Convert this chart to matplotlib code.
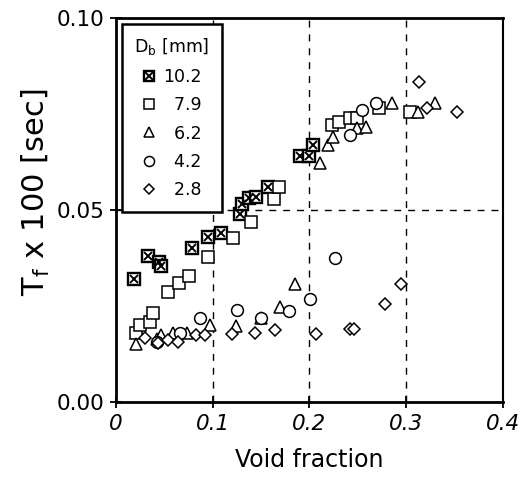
import matplotlib
matplotlib.use("Agg")
import matplotlib.pyplot as plt
from matplotlib.legend_handler import HandlerTuple

plt.rcParams['font.family'] = ['DejaVu Sans']
plt.rcParams['mathtext.fontset'] = 'dejavusans'

# Data (void fraction, Tf x 100 [sec])
x_102 = [0.019, 0.033, 0.045, 0.047, 0.079, 0.095, 0.109, 0.128, 0.130, 0.138, 0.145, 0.157, 0.190, 0.200, 0.204]
y_102 = [0.032, 0.038, 0.0365, 0.0355, 0.040, 0.043, 0.044, 0.049, 0.0515, 0.053, 0.0535, 0.056, 0.064, 0.064, 0.067]

x_79 = [0.021, 0.025, 0.035, 0.0386, 0.054, 0.065, 0.076, 0.095, 0.121, 0.140, 0.163, 0.169, 0.223, 0.231, 0.242, 0.249, 0.272, 0.304]
y_79 = [0.0179, 0.020, 0.0209, 0.0231, 0.0287, 0.031, 0.0328, 0.0378, 0.0428, 0.0468, 0.0529, 0.056, 0.0721, 0.073, 0.0739, 0.0739, 0.0765, 0.0756]

x_62 = [0.021, 0.042, 0.047, 0.059, 0.073, 0.097, 0.124, 0.150, 0.170, 0.185, 0.211, 0.219, 0.224, 0.249, 0.259, 0.285, 0.312, 0.330]
y_62 = [0.0150, 0.0163, 0.0175, 0.0179, 0.0179, 0.0200, 0.0198, 0.0218, 0.0247, 0.0306, 0.0622, 0.067, 0.069, 0.0713, 0.0717, 0.0778, 0.0756, 0.0778]

x_42 = [0.042, 0.066, 0.0868, 0.125, 0.1505, 0.179, 0.2004, 0.227, 0.242, 0.254, 0.269]
y_42 = [0.0157, 0.0179, 0.0218, 0.024, 0.0218, 0.0237, 0.0267, 0.0376, 0.0695, 0.076, 0.0778]

x_28 = [0.030, 0.044, 0.054, 0.064, 0.083, 0.092, 0.1205, 0.144, 0.164, 0.2066, 0.2425, 0.246, 0.2786, 0.2944, 0.3133, 0.322, 0.353]
y_28 = [0.0166, 0.0153, 0.016, 0.0157, 0.0174, 0.0174, 0.0177, 0.0179, 0.0187, 0.0177, 0.0189, 0.0189, 0.0255, 0.0306, 0.0834, 0.0765, 0.0754]

labels = ["10.2", "\u20077.9", "\u20076.2", "\u20074.2", "\u20072.8"]
x_ticks = [0, 0.1, 0.2, 0.3, 0.4]
x_tick_labels = ["0", "0.1", "0.2", "0.3", "0.4"]
y_ticks = [0.0, 0.05, 0.10]
y_tick_labels = ["0.00", "0.05", "0.10"]

fig = plt.figure(figsize=(5.27, 4.86), dpi=100)
ax = fig.add_axes([0.220, 0.173, 0.734, 0.790])

mk = dict(linestyle='none', markerfacecolor='white', markeredgecolor='black', zorder=3)

h1a, = ax.plot(x_102, y_102, marker='s', markersize=8, markeredgewidth=1.7, **mk)
h1b, = ax.plot(x_102, y_102, marker='x', markersize=6, markeredgewidth=1.4,
               linestyle='none', color='black', zorder=4)
h2, = ax.plot(x_79, y_79, marker='s', markersize=8, markeredgewidth=1.1, **mk)
h3, = ax.plot(x_62, y_62, marker='^', markersize=9, markeredgewidth=1.1, **mk)
h4, = ax.plot(x_42, y_42, marker='o', markersize=8.5, markeredgewidth=1.1, **mk)
h5, = ax.plot(x_28, y_28, marker='D', markersize=6, markeredgewidth=1.1, **mk)

ax.set_xlim(0, 0.4)
ax.set_ylim(0, 0.10)
ax.set_xticks(x_ticks)
ax.set_xticklabels(x_tick_labels, fontstyle='italic')
ax.set_yticks(y_ticks)
ax.set_yticklabels(y_tick_labels)
ax.tick_params(direction='inout', length=9, width=1.3, labelsize=15.5, pad=4, colors='black')

for xv in [0.1, 0.2, 0.3]:
    ax.axvline(xv, color='black', linestyle=(0, (5, 5)), linewidth=1.0, zorder=1)
ax.axhline(0.05, color='black', linestyle=(0, (5, 5)), linewidth=1.0, zorder=1)

for side in ['left', 'bottom', 'top']:
    ax.spines[side].set_linewidth(2.0)
ax.spines['right'].set_linewidth(1.5)

ax.set_xlabel("Void fraction", fontsize=17, labelpad=10)
ax.set_ylabel(r"T$_\mathregular{f}$ x 100 [sec]", fontsize=22)
ax.yaxis.set_label_coords(-0.165, 0.545)

leg = ax.legend([(h1a, h1b), h2, h3, h4, h5], labels,
                handler_map={tuple: HandlerTuple(ndivide=1, pad=0)},
                title=r"D$_\mathregular{b}$ [mm]", title_fontsize=12.5,
                fontsize=12.5, loc='upper left', bbox_to_anchor=(0.0155, 0.984),
                borderaxespad=0, frameon=True, fancybox=False, framealpha=1,
                edgecolor='black', handlelength=0.8, handletextpad=0.4,
                labelspacing=0.6, borderpad=0.7, markerscale=0.85)
leg.get_frame().set_linewidth(1.8)
leg.set_zorder(5)

fig.savefig("out.png", dpi=100)
